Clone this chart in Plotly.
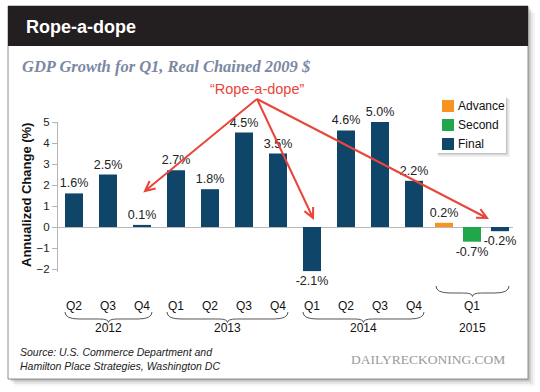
import math
import plotly.graph_objects as go

# ---------------- data ----------------
quarters = ["Q2", "Q3", "Q4", "Q1", "Q2", "Q3", "Q4", "Q1", "Q2", "Q3", "Q4"]
years = ["2012", "2012", "2012", "2013", "2013", "2013", "2013", "2014", "2014", "2014", "2014"]
final_values = [1.6, 2.5, 0.1, 2.7, 1.8, 4.5, 3.5, -2.1, 4.6, 5.0, 2.2]
q1_2015_label = "Q1"
q1_2015_year = "2015"
q1_2015_names = ["Advance", "Second", "Final"]
q1_2015_values = [0.2, -0.7, -0.2]
y_ticks = [-2, -1, 0, 1, 2, 3, 4, 5]

title = "Rope-a-dope"
subtitle = "GDP Growth for Q1, Real Chained 2009 $"
y_title = "Annualized Change (%)"
callout = "\u201cRope-a-dope\u201d"
source_lines = ["Source: U.S. Commerce Department and", "Hamilton Place Strategies, Washington DC"]
brand = "DAILYRECKONING.COM"

# ---------------- styles / layout ----------------
COL = {"Advance": "#f7931e", "Second": "#21a64b", "Final": "#0f4568"}
RED = "#e9453a"
SANS = "Liberation Sans, Arial, Helvetica, sans-serif"
SERIF = "Liberation Serif, Times New Roman, serif"

W, H = 540, 392
L, R, T, B = 58, 27, 122, 120
PW, PH = W - L - R, H - T - B
UNIT = 21.0
YMAX = 5.0
YMIN = YMAX - PH / UNIT
X0PIX, STEP = 74.0, 34.0  # pixel centre of first bar, spacing


def fx(p):
    return (p - L) / PW


def fy(p):
    return (H - B - p) / PH


def xpix(v):
    return X0PIX + v * STEP


n = len(final_values)
pos_q = list(range(n))
pos_2015 = [(n - 1) + 30 / STEP + i * 28 / STEP for i in range(len(q1_2015_names))]
bar_w = 18 / STEP

fig = go.Figure()
fig.add_trace(go.Bar(
    x=pos_q, y=final_values, width=bar_w,
    marker=dict(color=COL["Final"], line=dict(width=0)),
    text=[f"{v:.1f}%" for v in final_values], textposition="outside",
    constraintext="none", cliponaxis=False,
    textfont=dict(family=SANS, size=12.5, color="#222"),
    showlegend=False, hoverinfo="skip",
))
for name, v, p in zip(q1_2015_names, q1_2015_values, pos_2015):
    fig.add_trace(go.Bar(
        x=[p], y=[v], width=bar_w, name=name,
        marker=dict(color=COL[name], line=dict(width=0)),
        text=[f"{v:.1f}%"], textposition="outside",
        constraintext="none", cliponaxis=False,
        textfont=dict(family=SANS, size=12.5, color="#222"),
        showlegend=False, hoverinfo="skip",
    ))

shapes = []
# card shadow
for d, a in [(7, 0.04), (5, 0.06), (3, 0.09), (1.5, 0.12)]:
    shapes.append(dict(type="rect", xref="paper", yref="paper", layer="below",
                       x0=fx(8 + d), x1=fx(528 + d), y0=fy(6 + d), y1=fy(379 + d),
                       fillcolor=f"rgba(0,0,0,{a})", line=dict(width=0)))
# card
shapes.append(dict(type="rect", xref="paper", yref="paper", layer="below",
                   x0=fx(8), x1=fx(528), y0=fy(6), y1=fy(379),
                   fillcolor="white", line=dict(color="#8c8c8c", width=1)))
# title bar
shapes.append(dict(type="rect", xref="paper", yref="paper", layer="below",
                   x0=fx(8), x1=fx(528), y0=fy(6), y1=fy(46),
                   fillcolor="#231f20", line=dict(width=0)))

# legend box with shadow
lx0, lx1, ly0, ly1 = 437, 506, 97, 153
for d, a in [(4, 0.05), (2.5, 0.08), (1.2, 0.12)]:
    shapes.append(dict(type="rect", xref="paper", yref="paper", layer="above",
                       x0=fx(lx0 + d * 0.3), x1=fx(lx1 + d), y0=fy(ly0 + d * 0.5), y1=fy(ly1 + d),
                       fillcolor=f"rgba(0,0,0,{a})", line=dict(width=0)))
shapes.append(dict(type="rect", xref="paper", yref="paper", layer="above",
                   x0=fx(lx0), x1=fx(lx1), y0=fy(ly0), y1=fy(ly1),
                   fillcolor="white", line=dict(width=0)))

annotations = []
for i, name in enumerate(q1_2015_names):
    cy = 106 + 19 * i
    shapes.append(dict(type="rect", xref="paper", yref="paper", layer="above",
                       x0=fx(442), x1=fx(454), y0=fy(cy - 6), y1=fy(cy + 6),
                       fillcolor=COL[name], line=dict(width=0)))
    annotations.append(dict(xref="paper", yref="paper", x=fx(456), y=fy(cy),
                            xanchor="left", yanchor="middle", showarrow=False,
                            text=name, font=dict(family=SANS, size=12, color="#111")))


def brace_path(x0, x1, yt, ym, yb):
    xc = (x0 + x1) / 2
    pts = [("M", [(x0, yt)]), ("Q", [(x0, ym), (x0 + 14, ym)]), ("L", [(xc - 9, ym)]),
           ("Q", [(xc, ym), (xc, yb)]), ("Q", [(xc, ym), (xc + 9, ym)]),
           ("L", [(x1 - 14, ym)]), ("Q", [(x1, ym), (x1, yt)])]
    s = ""
    for cmd, ps in pts:
        s += cmd + " ".join(f"{fx(a):.5f},{fy(b):.5f}" for a, b in ps) + " "
    return s.strip()


# quarter labels, braces and years
for i, q in enumerate(quarters):
    annotations.append(dict(xref="x", yref="paper", x=pos_q[i], y=fy(305.5),
                            xanchor="center", yanchor="middle", showarrow=False,
                            text=q, font=dict(family=SANS, size=12, color="#111")))
groups = []
for i, yv in enumerate(years):
    if groups and groups[-1][0] == yv:
        groups[-1][1].append(pos_q[i])
    else:
        groups.append([yv, [pos_q[i]]])
for yv, ps in groups:
    a, b = xpix(ps[0]) - 9, xpix(ps[-1]) + 10
    shapes.append(dict(type="path", xref="paper", yref="paper", layer="above",
                       path=brace_path(a, b, 312, 319, 322.5),
                       line=dict(color="#555", width=1)))
    annotations.append(dict(xref="paper", yref="paper", x=fx((a + b) / 2), y=fy(327.5),
                            xanchor="center", yanchor="middle", showarrow=False,
                            text=yv, font=dict(family=SANS, size=12, color="#111")))
# 2015 group
c15 = sum(pos_2015) / len(pos_2015)
a, b = xpix(pos_2015[0]) - 8, xpix(pos_2015[-1]) + 9
shapes.append(dict(type="path", xref="paper", yref="paper", layer="above",
                   path=brace_path(a, b, 286, 293, 296.5),
                   line=dict(color="#555", width=1)))
annotations.append(dict(xref="x", yref="paper", x=c15, y=fy(305.5),
                        xanchor="center", yanchor="middle", showarrow=False,
                        text=q1_2015_label, font=dict(family=SANS, size=12, color="#111")))
annotations.append(dict(xref="x", yref="paper", x=c15, y=fy(327.5),
                        xanchor="center", yanchor="middle", showarrow=False,
                        text=q1_2015_year, font=dict(family=SANS, size=12, color="#111")))

# red call-out arrows
apex = (257, 99)
tips = [(145, 191), (313, 218), (487, 218)]


def arrow_path(x0, y0, x1, y1, head=11, ang=26):
    dx, dy = x1 - x0, y1 - y0
    ln = math.hypot(dx, dy)
    ux, uy = dx / ln, dy / ln
    out = f"M{fx(x0):.5f},{fy(y0):.5f} L{fx(x1):.5f},{fy(y1):.5f} "
    arms = []
    for s in (1, -1):
        t = math.radians(ang) * s
        bx = -ux * math.cos(t) + uy * math.sin(t)
        by = -ux * math.sin(t) - uy * math.cos(t)
        arms.append((x1 + head * bx, y1 + head * by))
    out += (f"M{fx(arms[0][0]):.5f},{fy(arms[0][1]):.5f} L{fx(x1):.5f},{fy(y1):.5f} "
            f"L{fx(arms[1][0]):.5f},{fy(arms[1][1]):.5f}")
    return out


for tx, ty in tips:
    shapes.append(dict(type="path", xref="paper", yref="paper", layer="above",
                       path=arrow_path(apex[0], apex[1], tx, ty),
                       line=dict(color=RED, width=2)))
annotations.append(dict(xref="paper", yref="paper", x=fx(257), y=fy(89),
                        xanchor="center", yanchor="middle", showarrow=False,
                        text=callout, font=dict(family=SANS, size=14.5, color=RED)))

# titles and footer
annotations.append(dict(xref="paper", yref="paper", x=fx(24), y=fy(27),
                        xanchor="left", yanchor="middle", showarrow=False,
                        text=f"<b>{title}</b>", font=dict(family=SANS, size=18, color="white")))
annotations.append(dict(xref="paper", yref="paper", x=fx(20), y=fy(66),
                        xanchor="left", yanchor="middle", showarrow=False,
                        text=f"<b><i>{subtitle}</i></b>",
                        font=dict(family=SERIF, size=16.5, color="#7b88a3")))
annotations.append(dict(xref="paper", yref="paper", x=fx(26.5), y=fy(195.5),
                        xanchor="center", yanchor="middle", showarrow=False, textangle=-90,
                        text=f"<b>{y_title}</b>", font=dict(family=SANS, size=13, color="#111")))
annotations.append(dict(xref="paper", yref="paper", x=fx(18), y=fy(358.5),
                        xanchor="left", yanchor="middle", showarrow=False, align="left",
                        text="<i>" + "<br>".join(source_lines) + "</i>",
                        font=dict(family=SANS, size=10.5, color="#222")))
annotations.append(dict(xref="paper", yref="paper", x=fx(507), y=fy(359),
                        xanchor="right", yanchor="middle", showarrow=False,
                        text=brand, font=dict(family=SERIF, size=13.5, color="#9a9a9a")))

fig.update_layout(
    width=W, height=H, margin=dict(l=L, r=R, t=T, b=B),
    paper_bgcolor="white", plot_bgcolor="rgba(0,0,0,0)",
    barmode="overlay", showlegend=False,
    shapes=shapes, annotations=annotations,
    xaxis=dict(range=[(L - X0PIX) / STEP, (W - R - X0PIX) / STEP], showgrid=False,
               zeroline=False, showticklabels=False, showline=False, fixedrange=True),
    yaxis=dict(range=[YMIN, YMAX], tickvals=y_ticks, showgrid=False, showline=True,
               linecolor="#b5b5b5", linewidth=1, ticks="outside", ticklen=5,
               tickcolor="#b5b5b5", tickfont=dict(family=SANS, size=11.5, color="#222"),
               zeroline=True, zerolinecolor="#b8b8b8", zerolinewidth=1, fixedrange=True),
)

fig.write_html("out.html", config={"displayModeBar": False},
               post_script="document.body.style.margin='0';")
